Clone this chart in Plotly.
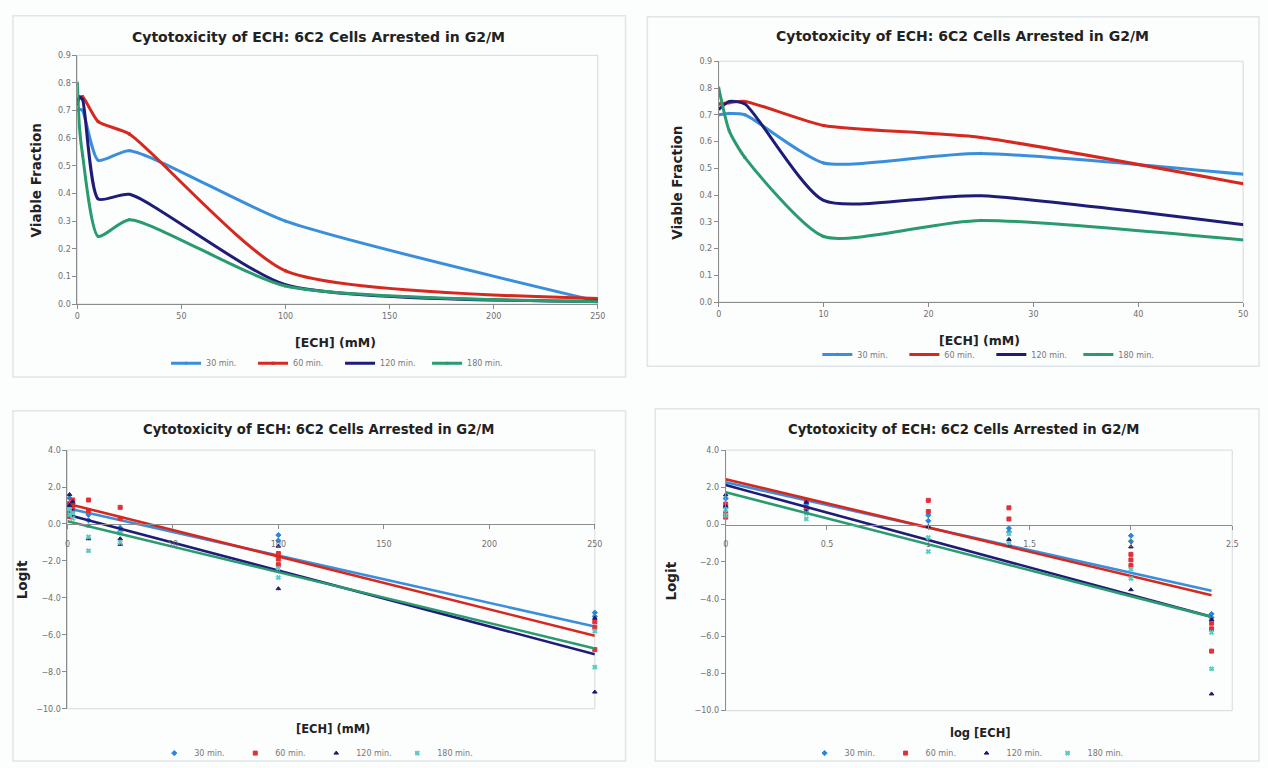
import numpy as np
import plotly.graph_objects as go

W, H = 1268, 768

# ---------------- data ----------------
series_names = ["30 min.", "60 min.", "120 min.", "180 min."]
line_colors = ["#3a8edb", "#d6281f", "#1f1c78", "#2a9a6f"]
scatter_colors = ["#2a86d8", "#e23038", "#1b1a6a", "#5ccac3"]
line_symbols = ["diamond", "square", "triangle-up", "x"]

# Viable fraction vs [ECH] (mM)
conc = [0, 1, 2.5, 10, 25, 100, 250]
viable_30 = [0.70, 0.705, 0.70, 0.52, 0.555, 0.30, 0.01]
viable_60 = [0.74, 0.745, 0.75, 0.66, 0.615, 0.12, 0.02]
viable_120 = [0.72, 0.75, 0.74, 0.38, 0.397, 0.07, 0.01]
viable_180 = [0.80, 0.64, 0.54, 0.245, 0.305, 0.065, 0.008]
viable = [viable_30, viable_60, viable_120, viable_180]

# Logit replicates
logit_conc_30 = [1, 1, 2.5, 2.5, 10, 10, 25, 25, 100, 100, 250, 250]
logit_30 = [1.4, 0.9, 1.1, 0.8, 0.5, 0.2, -0.2, -0.4, -0.6, -0.9, -4.8, -5.0]
logit_conc_60 = [1, 1, 1, 2.5, 2.5, 10, 10, 25, 25, 100, 100, 100, 250, 250, 250]
logit_60 = [1.1, 0.6, 0.4, 1.3, 0.9, 1.3, 0.7, 0.9, 0.3, -1.6, -1.9, -2.2, -5.3, -5.6, -6.8]
logit_conc_120 = [1, 1, 2.5, 2.5, 10, 10, 25, 25, 100, 100, 250, 250]
logit_120 = [1.6, 1.0, 1.2, 0.7, -0.1, -0.8, -0.8, -1.1, -1.2, -3.5, -5.1, -9.1]
logit_conc_180 = [1, 1, 2.5, 2.5, 10, 10, 25, 25, 100, 100, 250, 250]
logit_180 = [0.8, 0.5, 0.6, 0.3, -0.7, -1.45, -0.5, -1.0, -2.4, -2.9, -5.8, -7.75]
logit_conc = [logit_conc_30, logit_conc_60, logit_conc_120, logit_conc_180]
logit_vals = [logit_30, logit_60, logit_120, logit_180]

# Linear trendlines (intercept, slope)
trend_lin_intercept = [0.85, 1.10, 0.50, 0.15]
trend_lin_slope = [-0.0256, -0.0286, -0.0302, -0.02756]
trend_log_intercept = [2.27, 2.44, 2.12, 1.73]
trend_log_slope = [-2.43, -2.60, -2.95, -2.79]

# ---------------- layout helpers ----------------
def px_x(p):
    return p / W

def px_y(p):
    return 1 - p / H

FONT = "DejaVu Sans"
tick_font = dict(family=FONT, size=8, color="#6f6f6f")

fig = go.Figure()

# Top plots: viable fraction (smoothed lines)
for i in range(4):
    for xa, ya, leg in [("x", "y", "legend"), ("x2", "y2", "legend2")]:
        fig.add_trace(go.Scatter(
            x=conc, y=viable[i], mode="lines+markers", name=series_names[i],
            line=dict(color=line_colors[i], width=3, shape="spline", smoothing=0.6),
            marker=dict(symbol=line_symbols[i], size=3, color=line_colors[i]),
            xaxis=xa, yaxis=ya, legend=leg, showlegend=True,
        ))

# Bottom plots: logit scatter + trendlines
for i in range(4):
    xs = np.array(logit_conc[i], dtype=float)
    ys = np.array(logit_vals[i], dtype=float)
    fig.add_trace(go.Scatter(
        x=xs, y=ys, mode="markers", name=series_names[i],
        marker=dict(symbol=line_symbols[i], size=4, color=scatter_colors[i],
                    line=dict(width=1, color=scatter_colors[i])),
        xaxis="x3", yaxis="y3", legend="legend3", cliponaxis=False,
    ))
    xl = np.array([0.0, 250.0])
    fig.add_trace(go.Scatter(
        x=xl, y=trend_lin_intercept[i] + trend_lin_slope[i] * xl, mode="lines",
        line=dict(color=line_colors[i], width=2.6), xaxis="x3", yaxis="y3",
        showlegend=False, hoverinfo="skip",
    ))
    fig.add_trace(go.Scatter(
        x=np.log10(xs), y=ys, mode="markers", name=series_names[i],
        marker=dict(symbol=line_symbols[i], size=4, color=scatter_colors[i],
                    line=dict(width=1, color=scatter_colors[i])),
        xaxis="x4", yaxis="y4", legend="legend4", cliponaxis=False,
    ))
    xg = np.array([0.0, np.log10(250.0)])
    fig.add_trace(go.Scatter(
        x=xg, y=trend_log_intercept[i] + trend_log_slope[i] * xg, mode="lines",
        line=dict(color=line_colors[i], width=2.6), xaxis="x4", yaxis="y4",
        showlegend=False, hoverinfo="skip",
    ))

# plot-area pixel boxes: (left, right, top, bottom)
boxes = {
    1: (75, 600, 52, 304),
    2: (722, 1251, 58, 302),
    3: (65, 597, 452, 714),
    4: (729, 1240, 452, 716),
}

def dom(b):
    l, r, t, bt = b
    return [px_x(l), px_x(r)], [px_y(bt), px_y(t)]

axis_common = dict(showgrid=False, zeroline=False, showline=True, linecolor="#8c8c8c",
                   linewidth=1, ticks="outside", ticklen=4, tickcolor="#8c8c8c",
                   tickfont=tick_font)

d1x, d1y = dom(boxes[1])
d2x, d2y = dom(boxes[2])
d3x, d3y = dom(boxes[3])
d4x, d4y = dom(boxes[4])

ylo, yhi = -10, 4
pos3 = d3y[0] + (0 - ylo) / (yhi - ylo) * (d3y[1] - d3y[0])
pos4 = d4y[0] + (0 - ylo) / (yhi - ylo) * (d4y[1] - d4y[0])

fig.update_layout(
    width=W, height=H, margin=dict(l=0, r=0, t=0, b=0),
    paper_bgcolor="#fcfdfd", plot_bgcolor="rgba(0,0,0,0)",
    font=dict(family=FONT, color="#333"),
    xaxis=dict(domain=d1x, range=[0, 250], dtick=50, anchor="y", **axis_common),
    yaxis=dict(domain=d1y, range=[0, 0.9], dtick=0.1, tickformat=".1f", anchor="x", **axis_common),
    xaxis2=dict(domain=d2x, range=[0, 50], dtick=10, anchor="y2", **axis_common),
    yaxis2=dict(domain=d2y, range=[0, 0.9], dtick=0.1, tickformat=".1f", anchor="x2", **axis_common),
    xaxis3=dict(domain=d3x, range=[0, 250], dtick=50, anchor="free", position=pos3,
                ticklabelstandoff=8, **axis_common),
    yaxis3=dict(domain=d3y, range=[ylo, yhi], dtick=2, tickformat=".1f", anchor="x3", **axis_common),
    xaxis4=dict(domain=d4x, range=[0, 2.5], dtick=0.5, anchor="free", position=pos4,
                ticklabelstandoff=8, **axis_common),
    yaxis4=dict(domain=d4y, range=[ylo, yhi], dtick=2, tickformat=".1f", anchor="x4", **axis_common),
)

leg_top = dict(orientation="h", xanchor="center", yanchor="middle",
               font=dict(family=FONT, size=8, color="#777"),
               bgcolor="rgba(0,0,0,0)", itemwidth=30, entrywidth=42)
leg_bot = dict(orientation="h", xanchor="center", yanchor="middle",
               font=dict(family=FONT, size=8, color="#777"),
               bgcolor="rgba(0,0,0,0)", itemwidth=30, entrywidth=36)
fig.update_layout(
    legend=dict(x=px_x(340), y=px_y(364), **leg_top),
    legend2=dict(x=px_x(997), y=px_y(355), **leg_top),
    legend3=dict(x=px_x(316), y=px_y(759), **leg_bot),
    legend4=dict(x=px_x(972), y=px_y(759), **leg_bot),
)

title_text = "Cytotoxicity of ECH: 6C2 Cells Arrested in G2/M"
anns = []

def ann(text, x, y, size=11, angle=0, bold=True, color="#222"):
    anns.append(dict(text=f"<b>{text}</b>" if bold else text, x=px_x(x), y=px_y(y),
                     xref="paper", yref="paper", showarrow=False, textangle=angle,
                     xanchor="center", yanchor="middle",
                     font=dict(family=FONT, size=size, color=color)))

ann(title_text, 318, 33, 14)
ann(title_text, 968, 32, 14)
ann(title_text, 318, 431, 13.2)
ann(title_text, 969, 431, 13.2)
ann("[ECH] (mM)", 335, 343, 12.5)
ann("[ECH] (mM)", 985, 341, 12.5)
ann("[ECH] (mM)", 333, 735, 11.5)
ann("log [ECH]", 986, 739, 11.5)
ann("Viable Fraction", 33, 179, 13.5, -90)
ann("Viable Fraction", 680, 181, 13.5, -90)
ann("Logit", 20, 583, 13.5, -90)
ann("Logit", 674, 585, 13.5, -90)
fig.update_layout(annotations=anns)

shapes = []
for (l, r, t, b) in [(10, 628, 12, 378), (650, 1267, 13, 367), (10, 628, 412, 767), (658, 1267, 410, 767)]:
    shapes.append(dict(type="rect", xref="paper", yref="paper", x0=px_x(l), x1=px_x(r),
                       y0=px_y(b), y1=px_y(t), line=dict(color="#dfe5e8", width=1.5),
                       layer="below"))
for k in ["", "2", "3", "4"]:
    shapes.append(dict(type="rect", xref=f"x{k} domain", yref=f"y{k} domain",
                       x0=0, x1=1, y0=0, y1=1, line=dict(color="#d3dadd", width=1),
                       layer="below"))
fig.update_layout(shapes=shapes)

fig.write_html("out.html")
